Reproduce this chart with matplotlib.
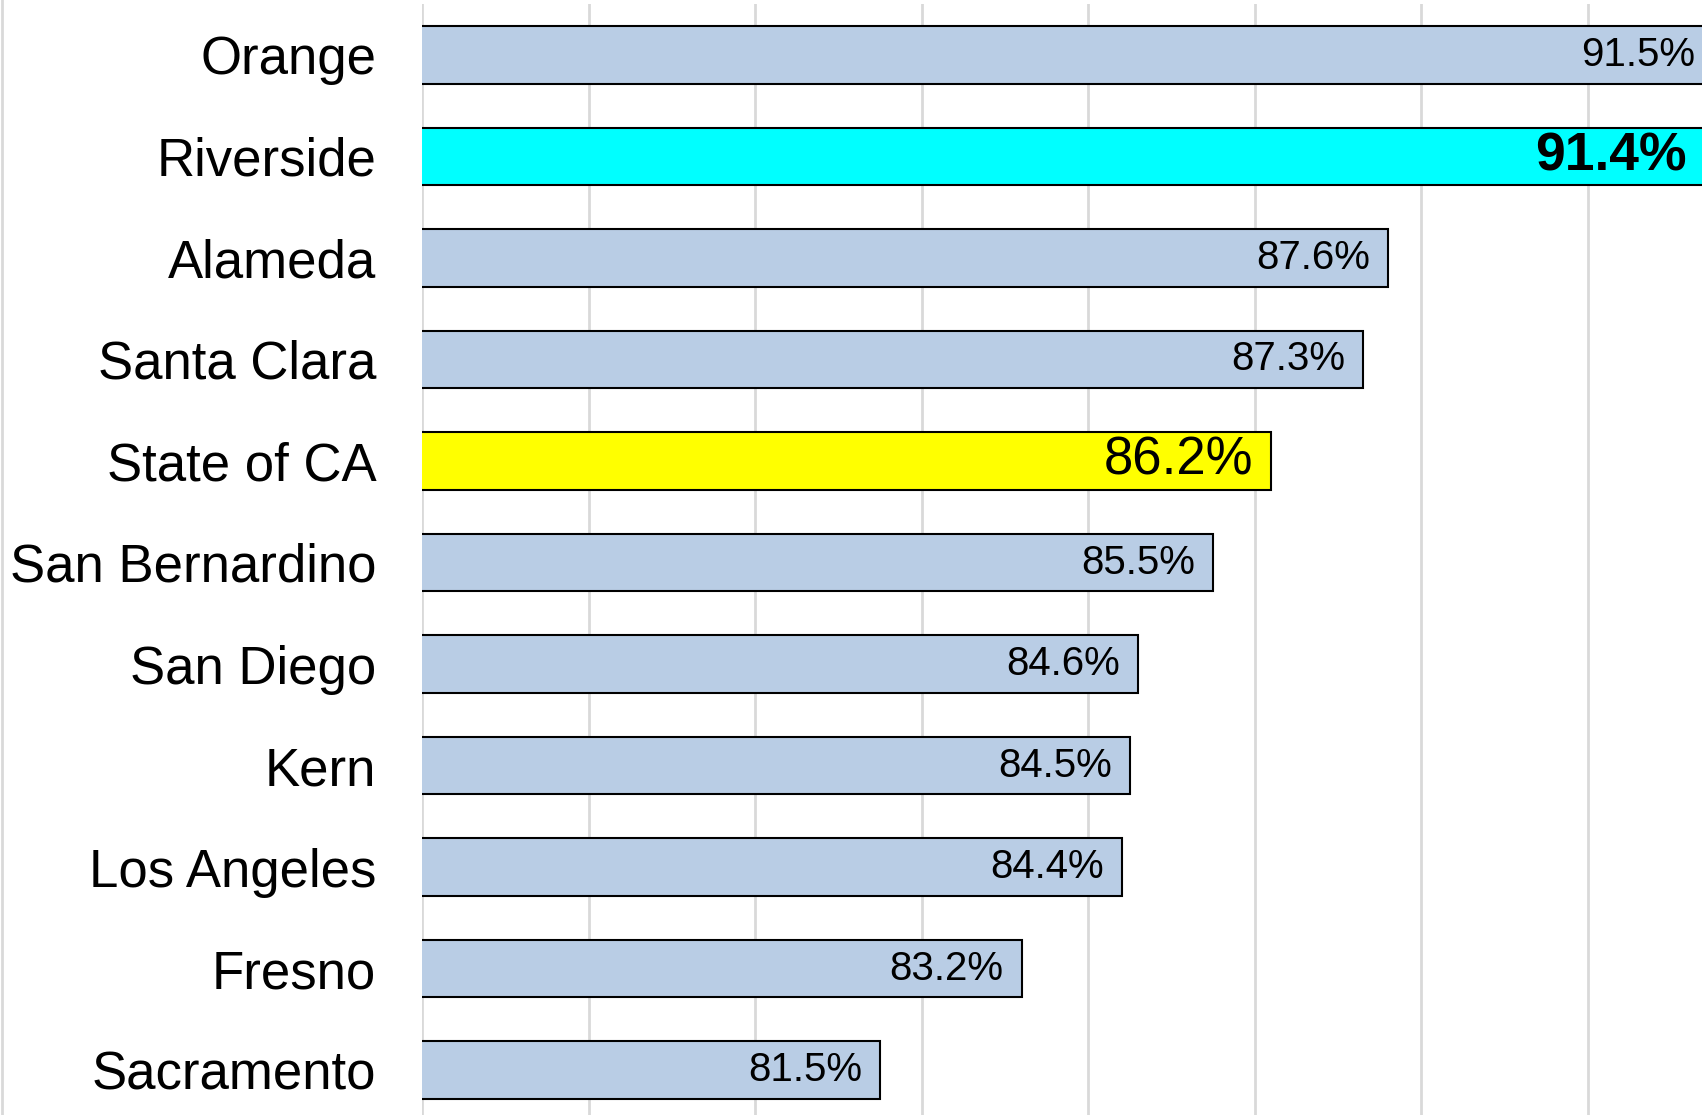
import matplotlib.pyplot as plt
from matplotlib.lines import Line2D
import numpy as np

# chart data, top to bottom
counties = ['Orange', 'Riverside', 'Alameda', 'Santa Clara', 'State of CA',
            'San Bernardino', 'San Diego', 'Kern', 'Los Angeles', 'Fresno',
            'Sacramento']
rates = [91.5, 91.4, 87.6, 87.3, 86.2, 85.5, 84.6, 84.5, 84.4, 83.2, 81.5]

# highlight colours for the two special rows
base_color = '#B9CDE5'
highlight = {'Riverside': '#00FFFF', 'State of CA': '#FFFF00'}

plt.rcParams['font.family'] = ['Liberation Sans', 'DejaVu Sans']

W, H, DPI = 1702, 1115, 100
fig = plt.figure(figsize=(W / DPI, H / DPI), dpi=DPI)

# axes placement in pixels (plot area runs a bit past the bottom edge)
left_px, top_px, bottom_px = 422, 4, 1121
ax = fig.add_axes([left_px / W, (H - bottom_px) / H,
                   1 - left_px / W, (bottom_px - top_px) / H])

y = np.arange(len(counties))
colors = [highlight.get(c, base_color) for c in counties]
ax.barh(y, rates, left=0, height=0.567, color=colors,
        edgecolor='black', linewidth=1.5, zorder=3)

ax.set_xlim(76, 91.37)
ax.set_ylim(len(counties) - 0.5, -0.5)

# gridlines
ax.set_xticks(np.arange(76, 92, 2))
ax.xaxis.grid(True, color='#D9D9D9', linewidth=2, zorder=0)
ax.tick_params(axis='x', length=0, labelbottom=False)
ax.set_yticks(y)
ax.set_yticklabels(counties, fontsize=38)
ax.tick_params(axis='y', length=0, pad=33)
for s in ax.spines.values():
    s.set_visible(False)

# value labels inside bar ends
for yi, (name, v) in enumerate(zip(counties, rates)):
    if name == 'Riverside':
        kw = dict(fontsize=38.5, fontweight='bold')
    elif name == 'State of CA':
        kw = dict(fontsize=38)
    else:
        kw = dict(fontsize=29)
    ax.annotate(f'{v:.1f}%', xy=(v, yi), xytext=(-13, 0),
                textcoords='offset points', ha='right', va='center',
                annotation_clip=False, zorder=4, **kw)

# thin gray border at the far left
fig.add_artist(Line2D([0.001, 0.001], [0, 1], color='#D9D9D9', linewidth=2,
                      transform=fig.transFigure))

fig.savefig('out.png', dpi=DPI)
